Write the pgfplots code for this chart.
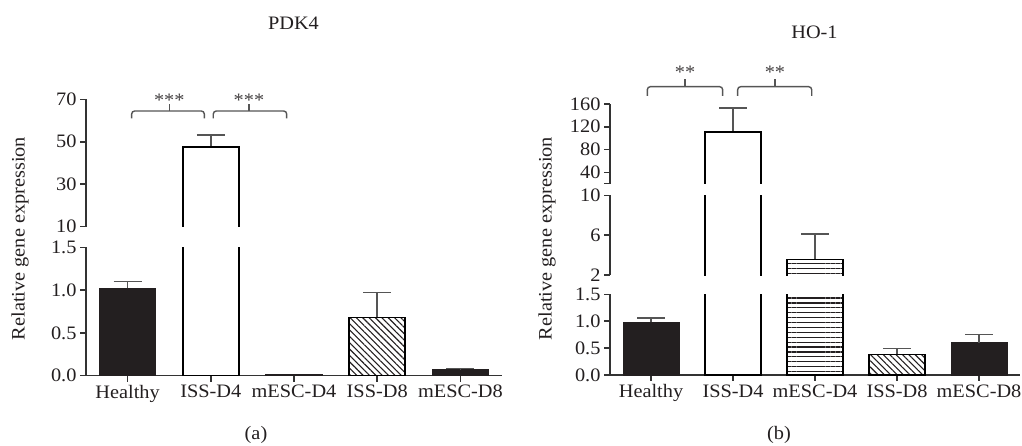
\documentclass[border=0pt]{standalone}
\usepackage{pgfplots}
\pgfplotsset{compat=1.18}
\usepackage{fontspec}
\setmainfont{Liberation Serif}[FakeStretch=1.07]
\usetikzlibrary{patterns.meta}
\definecolor{dk}{HTML}{231F20}
\definecolor{axc}{HTML}{333333}
\definecolor{ebc}{HTML}{555555}
\newcommand{\fs}{\fontsize{19}{22}\selectfont}
\tikzset{brk/.style={line width=1.4pt, color=ebc, rounded corners=3pt}}
\pgfplotsset{
  seg/.style={scale only axis, xmin=-0.5, xmax=4.5, clip mode=individual,
    axis line style={line width=1.5pt, axc},
    tick style={line width=1.5pt, axc},
    tick align=outside, major tick length=6pt,
    axis y line*=left,
    /pgf/number format/assume math mode=true,
    tick label style={font=\fs, text=dk},
  },
  bot/.style={axis x line*=bottom, xtick={0,1,2,3,4},
    xticklabels={Healthy,ISS-D4,mESC-D4,ISS-D8,mESC-D8}},
  upper/.style={axis x line=none, xtick=\empty},
  darkbar/.style={ybar, bar width=56pt, fill=dk, draw=dk, line width=1pt},
  whitebar/.style={ybar, bar width=56pt, fill=white, draw=black, line width=2.2pt},
  whitefill/.style={ybar, bar width=56pt, fill=white, draw=none},
  outline/.style={sharp plot, no marks, draw=black, line width=2.2pt},
  outlinethin/.style={sharp plot, no marks, draw=black, line width=1.5pt},
  hatchbar/.style={ybar, bar width=56pt, draw=black, line width=1.5pt,
    pattern={Lines[angle=-45,distance=4.5pt,line width=1.1pt]}, pattern color=dk},
  hlinebar/.style={ybar, bar width=56pt, draw=black, line width=1.5pt,
    pattern={Lines[angle=0,distance=4.9pt,line width=1.2pt]}, pattern color=dk},
  hlinefill/.style={ybar, bar width=56pt, draw=none,
    pattern={Lines[angle=0,distance=4.9pt,line width=1.2pt]}, pattern color=dk},
  errb/.style={error bars/.cd, y dir=plus, y explicit,
    error bar style={line width=1.5pt, color=ebc},
    error mark options={rotate=90, mark size=14pt, line width=1.5pt, color=ebc}},
}
\begin{document}
\begin{tikzpicture}[font=\fs]
\path[use as bounding box] (0,0) rectangle (1022pt,445pt);

% ================= (a) PDK4 =================
% lower segment 0 - 1.5
\begin{axis}[seg, bot, at={(86pt,69.3pt)}, anchor=south west,
  width=416pt, height=128.4pt, ymin=0, ymax=1.5,
  ytick={0,0.5,1,1.5}, yticklabels={0.0,0.5,1.0,1.5}]
\addplot[darkbar, errb] coordinates {(0,1.02) +- (0,0.08)};
\addplot[whitebar] coordinates {(1,47.4)};
\addplot[darkbar] coordinates {(2,0.01)};
\addplot[hatchbar, errb] coordinates {(3,0.68) +- (0,0.29)};
\addplot[darkbar, errb] coordinates {(4,0.075) +- (0,0.008)};
\end{axis}
% upper segment 10 - 70
\begin{axis}[seg, upper, at={(86pt,218.3pt)}, anchor=south west,
  width=416pt, height=127.4pt, ymin=10, ymax=70,
  ytick={10,30,50,70}, yticklabels={10,30,50,70}]
\addplot[whitefill, errb] coordinates {(1,47.4) +- (0,5.9)};
\addplot[outline] coordinates {(0.6635,0) (0.6635,47.4) (1.3365,47.4) (1.3365,0)};
\draw[brk] (axis cs:0.049,61.05) -- (axis cs:0.049,64.5) -- (axis cs:0.922,64.5) -- (axis cs:0.922,61.05);
\draw[brk] (axis cs:0.501,64.5) -- (axis cs:0.501,67.8);
\draw[brk] (axis cs:1.03,61.05) -- (axis cs:1.03,64.5) -- (axis cs:1.912,64.5) -- (axis cs:1.912,61.05);
\draw[brk] (axis cs:1.459,64.5) -- (axis cs:1.459,67.8);
\node[anchor=base, text=dk!85, inner sep=0pt] at (axis cs:0.501,66.4) {***};
\node[anchor=base, text=dk!85, inner sep=0pt] at (axis cs:1.459,66.4) {***};
\end{axis}
\node[rotate=90, text=dk] at (20pt,206.5pt) {Relative gene expression};
\node[text=dk] at (293.5pt,422pt) {PDK4};
\node[text=dk] at (256pt,10pt) {(a)};

% ================= (b) HO-1 =================
% lower segment 0 - 1.5
\begin{axis}[seg, bot, at={(610pt,70pt)}, anchor=south west,
  width=410pt, height=80.7pt, ymin=0, ymax=1.5,
  ytick={0,0.5,1,1.5}, yticklabels={0.0,0.5,1.0,1.5}]
\addplot[darkbar, errb] coordinates {(0,0.98) +- (0,0.08)};
\addplot[whitebar] coordinates {(1,111)};
\addplot[hlinebar] coordinates {(2,3.57)};
\addplot[hatchbar, errb] coordinates {(3,0.385) +- (0,0.105)};
\addplot[darkbar, errb] coordinates {(4,0.6) +- (0,0.15)};
\end{axis}
% middle segment 2 - 10
\begin{axis}[seg, upper, at={(610pt,170pt)}, anchor=south west,
  width=410pt, height=79.7pt, ymin=2, ymax=10,
  ytick={2,6,10}, yticklabels={2,6,10}]
\addplot[outline] coordinates {(0.6585,0) (0.6585,111) (1.3415,111) (1.3415,0)};
\addplot[hlinefill, errb] coordinates {(2,3.57) +- (0,2.53)};
\addplot[outlinethin] coordinates {(1.6585,0) (1.6585,3.57) (2.3415,3.57) (2.3415,0)};
\end{axis}
% upper segment 20 - 160
\begin{axis}[seg, upper, at={(610pt,261.3pt)}, anchor=south west,
  width=410pt, height=79.7pt, ymin=20, ymax=160,
  ytick={20,40,80,120,160}, yticklabels={,40,80,120,160}]
\addplot[whitefill, errb] coordinates {(1,111) +- (0,42)};
\addplot[outline] coordinates {(0.6585,0) (0.6585,111) (1.3415,111) (1.3415,0)};
\draw[brk] (axis cs:-0.045,174.1) -- (axis cs:-0.045,190.4) -- (axis cs:0.874,190.4) -- (axis cs:0.874,174.1);
\draw[brk] (axis cs:0.415,190.4) -- (axis cs:0.415,204);
\draw[brk] (axis cs:1.057,174.1) -- (axis cs:1.057,190.4) -- (axis cs:1.96,190.4) -- (axis cs:1.96,174.1);
\draw[brk] (axis cs:1.512,190.4) -- (axis cs:1.512,204);
\node[anchor=base, text=dk!85, inner sep=0pt] at (axis cs:0.415,204.3) {**};
\node[anchor=base, text=dk!85, inner sep=0pt] at (axis cs:1.512,204.3) {**};
\end{axis}
\node[rotate=90, text=dk] at (547pt,206.5pt) {Relative gene expression};
\node[text=dk] at (814.5pt,413pt) {HO-1};
\node[text=dk] at (779pt,10pt) {(b)};
\end{tikzpicture}
\end{document}
